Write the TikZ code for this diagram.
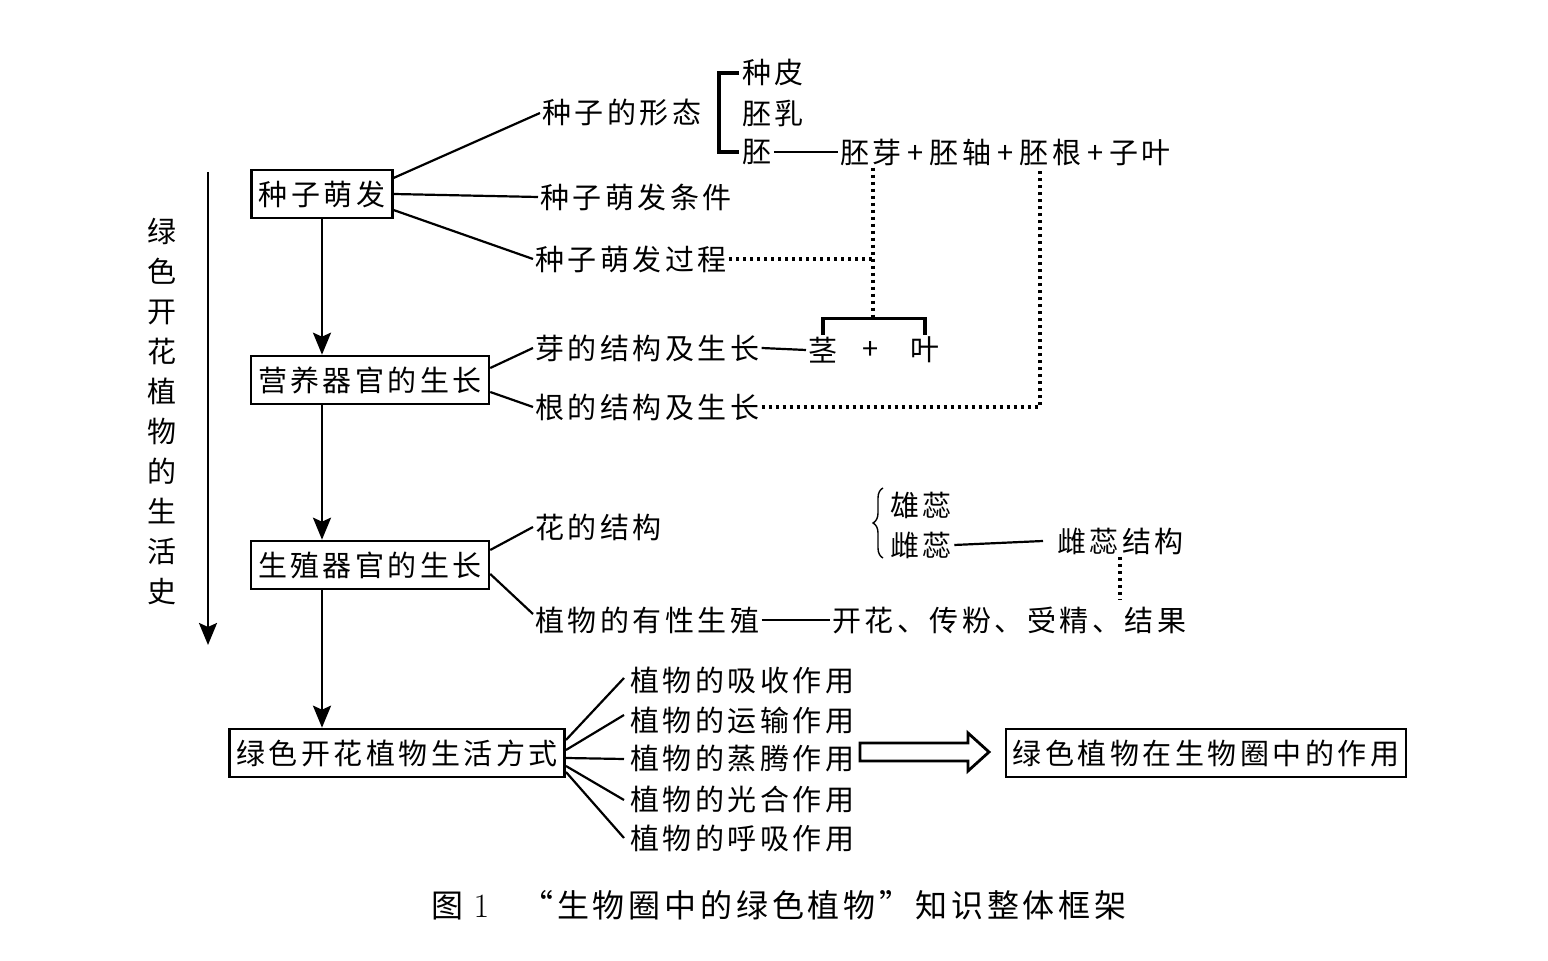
\documentclass[tikz,border=0pt]{standalone}
\usepackage{fontspec}
\newfontfamily\cjk{Noto Sans CJK SC}[LetterSpace=12]
\newcommand\diagfont{\cjk\fontsize{14.5pt}{16pt}\selectfont}
\newcommand\histfont{\cjk\fontsize{14.5pt}{20pt}\selectfont}
\newcommand\capfont{\cjk\fontsize{16pt}{18pt}\selectfont}
\newcommand\pl{\kern3pt+\kern3pt}
\usetikzlibrary{arrows.meta,calc,decorations.pathreplacing}

\begin{document}
\begin{tikzpicture}[%%
  x=0.5pt,y=-0.5pt,
  font=\diagfont,
  boxStyle/.style={draw,line width=1.3pt,inner xsep=3.5pt,minimum height=24pt},
  txtStyle/.style={anchor=west,inner sep=1pt},
  branchStyle/.style={line width=1.1pt},
  dotStyle/.style={line width=1.6pt,dash pattern=on 1.6pt off 1.9pt},
  bracketStyle/.style={line width=1.6pt},
  downStyle/.style={line width=1.3pt,-{Stealth[length=11pt,width=9pt,inset=2pt]}}
]
%%
\useasboundingbox (0,0) rectangle (1548,961);
%%
%% The main column of boxes.
\node[boxStyle] (seed) at (322,194) {种子萌发};
\node[boxStyle] (veg) at (370,380) {营养器官的生长};
\node[boxStyle] (rep) at (370,565) {生殖器官的生长};
\node[boxStyle] (life) at (397,753) {绿色开花植物生活方式};
\node[boxStyle] (role) at (1206,753) {绿色植物在生物圈中的作用};
%%
%% Arrows down the column.
\draw[downStyle] (seed.south) -- (seed.south |- veg.north);
\draw[downStyle] (veg.south -| seed.south) -- (seed.south |- rep.north);
\draw[downStyle] (rep.south -| seed.south) -- (seed.south |- life.north);
%%
%% The life history arrow and its label.
\coordinate (histTop) at (208,172);
\coordinate (histEnd) at (208,645);
\draw[downStyle] (histTop) -- (histEnd);
\node[align=center,font=\histfont] (hist) at (162,411)
  {绿\\色\\开\\花\\植\\物\\的\\生\\活\\史};
%%
%% Seed germination.
\node[txtStyle] (form) at (540,113) {种子的形态};
\node[txtStyle] (cond) at (538,197) {种子萌发条件};
\node[txtStyle] (proc) at (533,259) {种子萌发过程};
\node[txtStyle] (pi) at (740,73) {种皮};
\node[txtStyle] (ru) at (740,113) {胚乳};
\node[txtStyle] (pei) at (740,152) {胚};
\node[txtStyle] (parts) at (838,152) {胚芽\pl 胚轴\pl 胚根\pl 子叶};
\draw[branchStyle] ($(seed.east)+(0,-16)$) -- (form.west);
\draw[branchStyle] (seed.east) -- (cond.west);
\draw[branchStyle] ($(seed.east)+(0,16)$) -- (proc.west);
\draw[bracketStyle] ($(pi.west)+(-1,0)$) -- ++(-20,0) |- ($(pei.west)+(-1,0)$);
\draw[branchStyle] (pei.east) -- (parts.west);
%%
%% Vegetative organs.
\node[txtStyle] (bud) at (533,348) {芽的结构及生长};
\node[txtStyle] (root) at (533,407) {根的结构及生长};
\node[txtStyle] (jing) at (806,350) {茎};
\node (plus) at (871,350) {+};
\node[txtStyle] (ye) at (908,350) {叶};
\draw[branchStyle] ($(veg.east)+(0,-12)$) -- (bud.west);
\draw[branchStyle] ($(veg.east)+(0,12)$) -- (root.west);
\draw[branchStyle] (bud.east) -- (jing.west);
\coordinate (jingTop) at ($(jing.north)+(0,-16)$);
\coordinate (mid) at ($(jing.north)!0.5!(ye.north)+(0,-16)$);
\draw[bracketStyle] (jing.north) -- (jingTop) -| (ye.north);
%%
%% Dotted links.
\coordinate (yaFoot) at ($(parts.south west)+(35,0)$);
\coordinate (genFoot) at ($(parts.south west)+(202,0)$);
\draw[dotStyle] (proc.east) -- (mid |- proc.east);
\draw[dotStyle] (yaFoot) -- (yaFoot |- mid);
\draw[dotStyle] (root.east) -- (genFoot |- root.east) -- (genFoot);
%%
%% Reproductive organs.
\node[txtStyle] (flower) at (533,527) {花的结构};
\node[txtStyle] (sexual) at (533,620) {植物的有性生殖};
\node[txtStyle] (steps) at (830,620) {开花、传粉、受精、结果};
\node[txtStyle] (stamen) at (888,505) {雄蕊};
\node[txtStyle] (pistil) at (888,545) {雌蕊};
\node[txtStyle] (pstruct) at (1055,541) {雌蕊结构};
\draw[branchStyle] ($(rep.east)+(0,-15)$) -- (flower.west);
\draw[branchStyle] ($(rep.east)+(0,9)$) -- ($(sexual.west)+(0,-6)$);
\draw[branchStyle] (sexual.east) -- (steps.west);
\draw[line width=0.7pt,decorate,decoration={brace,amplitude=5pt}]
  (883,558) -- (883,488);
\draw[branchStyle] (pistil.east) -- ($(pstruct.west)+(-12,0)$);
\coordinate (ciFoot) at ($(pstruct.south west)+(65,0)$);
\draw[dotStyle] (ciFoot) -- ($(ciFoot |- steps.north)+(0,-4)$);
%%
%% Ways of life.
\foreach \nm/\yy/\tx in {xishou/680/植物的吸收作用,yunshu/720/植物的运输作用,
  zhengteng/759/植物的蒸腾作用,guanghe/799/植物的光合作用,huxi/838/植物的呼吸作用}
  \node[txtStyle] (\nm) at (628,\yy) {\tx};
\draw[branchStyle] ($(life.east)+(0,-13)$) -- ($(xishou.west)+(-4,-2)$);
\draw[branchStyle] ($(life.east)+(0,-3)$) -- ($(yunshu.west)+(-4,-5)$);
\draw[branchStyle] ($(life.east)+(0,5)$) -- ($(zhengteng.west)+(-4,0)$);
\draw[branchStyle] ($(life.east)+(0,13)$) -- ($(guanghe.west)+(-4,1)$);
\draw[branchStyle] ($(life.east)+(0,19)$) -- ($(huxi.west)+(-4,0)$);
%% The hollow arrow.
\draw[line width=1.4pt,line join=miter] (860,743) -- (968,743) -- (968,733) -- (989,752)
  -- (968,771) -- (968,761) -- (860,761) -- cycle;
%%
%% Caption.
\node[font=\capfont] (caption) at (779,905)
  {图{\rmfamily\fontsize{17pt}{18pt}\selectfont\ 1}\quad “生物圈中的绿色植物”知识整体框架};
\end{tikzpicture}
\end{document}
